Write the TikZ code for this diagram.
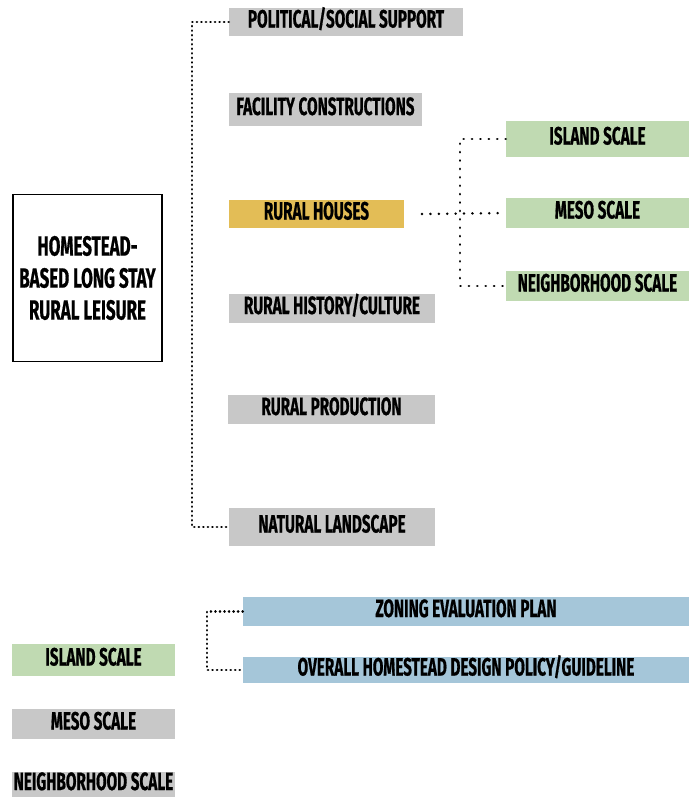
\documentclass[tikz,border=0pt]{standalone}
\usepackage{fontspec}
\setmainfont[FakeStretch=0.61,FakeBold=0.6]{Fira Sans}
\definecolor{boxgray}{HTML}{C8C8C8}
\definecolor{housegold}{HTML}{E3BD56}
\definecolor{scalegreen}{HTML}{C0DAB2}
\definecolor{planblue}{HTML}{A5C6D9}

\begin{document}
\begin{tikzpicture}[x=0.75pt,y=-0.75pt,
  box/.style={fill=boxgray,inner sep=0pt,text height=12.8pt,text depth=4.5pt,
    font=\bfseries\fontsize{18.8}{20}\selectfont},
  dense/.style={line width=2pt,line cap=round,dash pattern=on 0.1pt off 3.3pt},
  sparse/.style={line width=2pt,line cap=round,dash pattern=on 0.1pt off 6.2pt}]
  \useasboundingbox (0,0) rectangle (690,797);
  % main theme
  \node[draw,line width=1.2pt,fill=white,minimum width=112pt,minimum height=125pt,align=center,
    font=\bfseries\fontsize{20.8}{24}\selectfont] (main) at (87.5,278) {HOMESTEAD-\\BASED LONG STAY\\RURAL LEISURE};
  % factors
  \node[box,minimum width=175.5pt,minimum height=21pt] (pol) at (346,22) {POLITICAL/SOCIAL SUPPORT};
  \node[box,minimum width=144.75pt,minimum height=24.75pt] (fac) at (325.5,109.5) {FACILITY CONSTRUCTIONS};
  \node[box,fill=housegold,minimum width=131.25pt,minimum height=21pt] (hou) at (316.5,214) {RURAL HOUSES};
  \node[box,minimum width=154.5pt,minimum height=21.75pt] (his) at (332,308.5) {RURAL HISTORY/CULTURE};
  \node[box,minimum width=155.25pt,minimum height=21.75pt] (pro) at (331.5,409.5) {RURAL PRODUCTION};
  \node[box,minimum width=154.5pt,minimum height=28.5pt] (nat) at (332,527) {NATURAL LANDSCAPE};
  % scales
  \node[box,fill=scalegreen,minimum width=137.25pt,minimum height=27pt] (isl) at (597.5,139) {ISLAND SCALE};
  \node[box,fill=scalegreen,minimum width=137.25pt,minimum height=22.5pt] (mes) at (597.5,213) {MESO SCALE};
  \node[box,fill=scalegreen,minimum width=137.25pt,minimum height=22.5pt] (nei) at (597.5,286) {NEIGHBORHOOD SCALE};
  % plans
  \node[box,fill=planblue,minimum width=334.5pt,minimum height=21.75pt] (zon) at (466,611.5) {ZONING EVALUATION PLAN};
  \node[box,fill=planblue,minimum width=334.5pt,minimum height=19.5pt] (ove) at (466,670) {OVERALL HOMESTEAD DESIGN POLICY/GUIDELINE};
  % legend
  \node[box,fill=scalegreen,minimum width=122.25pt,minimum height=24pt] (lgi) at (93.5,660) {ISLAND SCALE};
  \node[box,minimum width=122.25pt,minimum height=22.5pt] (lgm) at (93.5,724) {MESO SCALE};
  \node[box,minimum width=122.25pt,minimum height=18.75pt] (lgn) at (93.5,784.5) {NEIGHBORHOOD SCALE};
  % dotted brackets
  \coordinate (lj) at (192,280);
  \coordinate (hs) at (422,214);
  \coordinate (rj) at (460,214);
  \coordinate (bj) at (207,640);
  \draw[dense] (pol.west) -| (lj) |- (nat.west);
  \draw[sparse] (hs) -- (mes.west);
  \draw[sparse] (isl.west) -| (rj) |- (nei.west);
  \draw[dense] (zon.west) -| (bj) |- (ove.west);
\end{tikzpicture}
\end{document}
